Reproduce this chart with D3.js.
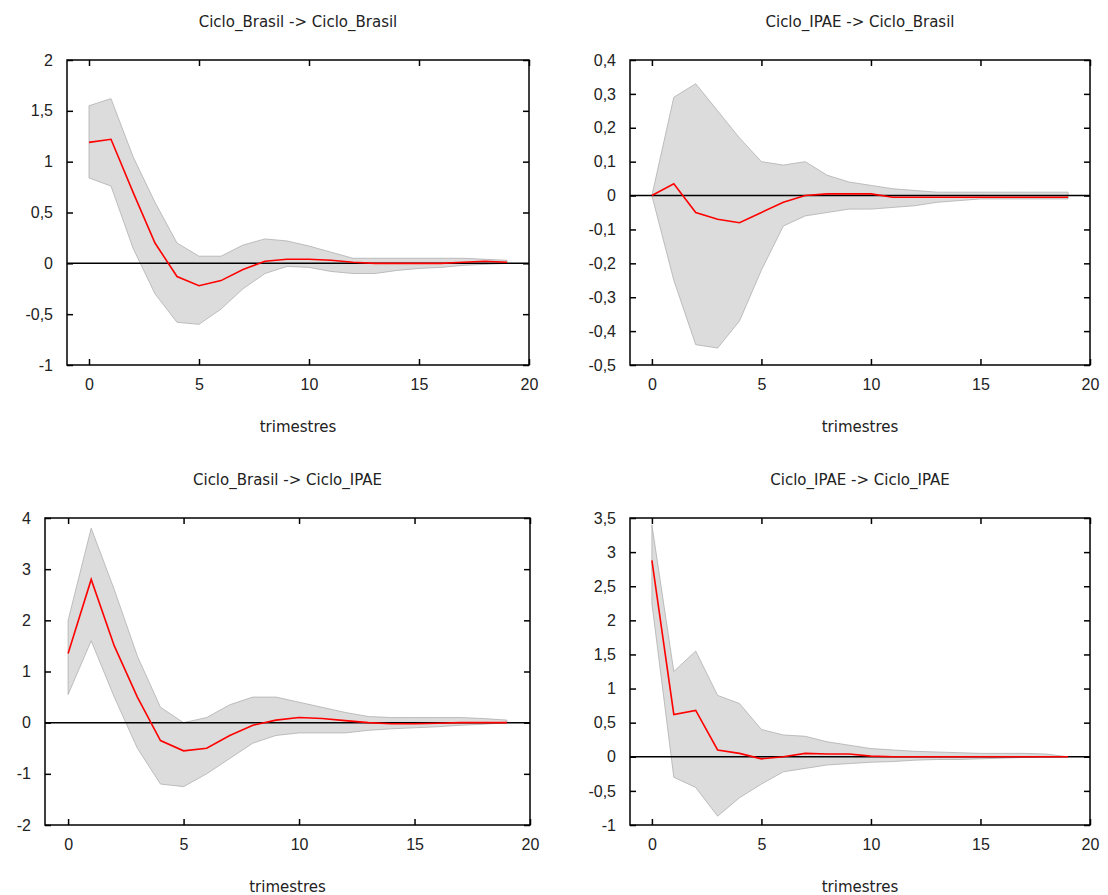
<!DOCTYPE html><html><head><meta charset="utf-8">
<script src="https://cdn.jsdelivr.net/npm/d3@7"></script>
<style>body{margin:0;background:#fff}svg{font-family:"DejaVu Sans",sans-serif}</style></head><body>
<svg id="c" width="1108" height="895"></svg>
<script>
const titles=["Ciclo_Brasil -> Ciclo_Brasil","Ciclo_IPAE -> Ciclo_Brasil","Ciclo_Brasil -> Ciclo_IPAE","Ciclo_IPAE -> Ciclo_IPAE"];
const xTicks=[0,5,10,15,20];
const yTicks=[[-1,-0.5,0,0.5,1,1.5,2],[-0.5,-0.4,-0.3,-0.2,-0.1,0,0.1,0.2,0.3,0.4],[-2,-1,0,1,2,3,4],[-1,-0.5,0,0.5,1,1.5,2,2.5,3,3.5]];
const center1=[1.19,1.22,0.7,0.2,-0.13,-0.22,-0.17,-0.06,0.02,0.04,0.04,0.03,0.01,0,0,0,0,0.01,0.02,0.01];
const upper1=[1.55,1.62,1.05,0.6,0.2,0.07,0.07,0.18,0.24,0.22,0.17,0.11,0.05,0.05,0.05,0.05,0.05,0.05,0.04,0.03];
const lower1=[0.84,0.76,0.15,-0.3,-0.58,-0.6,-0.45,-0.25,-0.1,-0.03,-0.04,-0.08,-0.1,-0.1,-0.07,-0.05,-0.04,-0.02,-0.01,0];
const center2=[0,0.035,-0.05,-0.07,-0.08,-0.05,-0.02,0,0.005,0.005,0.005,-0.005,-0.005,-0.005,-0.005,-0.005,-0.005,-0.005,-0.005,-0.005];
const upper2=[0,0.29,0.33,0.25,0.17,0.1,0.09,0.1,0.06,0.04,0.03,0.02,0.015,0.01,0.01,0.01,0.01,0.01,0.01,0.01];
const lower2=[0,-0.25,-0.44,-0.45,-0.37,-0.22,-0.09,-0.06,-0.05,-0.04,-0.04,-0.035,-0.03,-0.02,-0.015,-0.01,-0.01,-0.01,-0.01,-0.01];
const center3=[1.35,2.8,1.5,0.5,-0.35,-0.55,-0.5,-0.25,-0.05,0.05,0.1,0.08,0.04,0,-0.02,-0.02,-0.01,0,0,0];
const upper3=[2.0,3.8,2.6,1.3,0.3,0.0,0.1,0.35,0.5,0.5,0.4,0.3,0.2,0.12,0.1,0.1,0.1,0.1,0.08,0.05];
const lower3=[0.55,1.6,0.5,-0.5,-1.2,-1.25,-1.0,-0.7,-0.4,-0.25,-0.2,-0.2,-0.2,-0.15,-0.12,-0.1,-0.08,-0.05,-0.03,0];
const center4=[2.88,0.62,0.68,0.1,0.05,-0.03,0,0.05,0.04,0.04,0.01,0,0,0,0,0,0,0,0,0];
const upper4=[3.4,1.25,1.55,0.9,0.78,0.4,0.32,0.3,0.22,0.17,0.12,0.1,0.08,0.07,0.06,0.05,0.05,0.05,0.04,0];
const lower4=[2.25,-0.3,-0.45,-0.87,-0.6,-0.4,-0.22,-0.17,-0.12,-0.1,-0.08,-0.07,-0.05,-0.04,-0.04,-0.03,-0.02,-0.01,0,0];
const centers=[center1,center2,center3,center4],uppers=[upper1,upper2,upper3,upper4],lowers=[lower1,lower2,lower3,lower4];
const boxes=[{l:67,r:529,t:60,b:365},{l:630,r:1090,t:60,b:365},{l:45,r:530,t:518,b:825},{l:630,r:1090,t:518,b:825}];
const fmt=v=>String(+v.toFixed(2)).replace(".",",");
const svg=d3.select("#c");
boxes.forEach((B,i)=>{
  const yt=yTicks[i];
  const x=d3.scaleLinear().domain([-1,20]).range([B.l,B.r]);
  const y=d3.scaleLinear().domain([yt[0],yt[yt.length-1]]).range([B.b,B.t]);
  const g=svg.append("g");
  const idx=d3.range(20);
  g.append("path").attr("d",d3.area().x(j=>x(j)).y0(j=>y(lowers[i][j])).y1(j=>y(uppers[i][j]))(idx))
   .attr("fill","#dcdcdc").attr("stroke","#b0b0b0").attr("stroke-width",0.8);
  g.append("line").attr("x1",B.l).attr("x2",B.r).attr("y1",y(0)).attr("y2",y(0)).attr("stroke","#000").attr("stroke-width",1.5);
  g.append("path").attr("d",d3.line().x(j=>x(j)).y(j=>y(centers[i][j]))(idx)).attr("fill","none").attr("stroke","#ff0000").attr("stroke-width",1.6);
  const ax=(a,tr)=>g.append("g").attr("transform",tr).call(a).call(s=>{s.select(".domain").remove();s.selectAll("text").attr("font-size",16).attr("fill","#222");s.selectAll("line").attr("stroke","#000").attr("stroke-width",1.5);});
  ax(d3.axisBottom(x).tickValues(xTicks).tickSize(-6).tickPadding(14).tickFormat(fmt),`translate(0,${B.b})`);
  ax(d3.axisTop(x).tickValues(xTicks).tickSize(-6).tickFormat(""),`translate(0,${B.t})`);
  ax(d3.axisLeft(y).tickValues(yt).tickSize(-6).tickPadding(14).tickFormat(fmt),`translate(${B.l},0)`);
  ax(d3.axisRight(y).tickValues(yt).tickSize(-6).tickFormat(""),`translate(${B.r},0)`);
  g.append("rect").attr("x",B.l).attr("y",B.t).attr("width",B.r-B.l).attr("height",B.b-B.t).attr("fill","none").attr("stroke","#000").attr("stroke-width",1.5);
  const cx=(B.l+B.r)/2;
  g.append("text").attr("x",cx).attr("y",B.t-33).attr("text-anchor","middle").attr("font-size",15).attr("fill","#222").text(titles[i]);
  g.append("text").attr("x",cx).attr("y",B.b+67).attr("text-anchor","middle").attr("font-size",15).attr("fill","#222").text("trimestres");
});
</script></body></html>
